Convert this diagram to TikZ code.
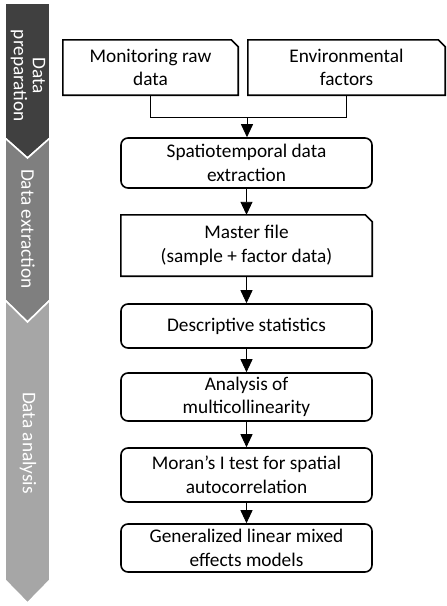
\documentclass[tikz,border=0pt]{standalone}
\usepackage{fontspec}
\setmainfont{Carlito}
\usetikzlibrary{arrows.meta}
\definecolor{bardark}{HTML}{404040}
\definecolor{barmid}{HTML}{7F7F7F}
\definecolor{barlight}{HTML}{A6A6A6}
\tikzset{
  boxtext/.style={font=\fontsize{19.3}{23.5}\selectfont, align=center, inner sep=0pt},
  plainbox/.style={boxtext, draw, line width=1.6pt, rounded corners=7pt},
  snipbox/.style={boxtext},
  snipline/.style={line width=1.6pt, line join=miter},
  conn/.style={line width=0.9pt},
  arr/.style={conn, -{Triangle[width=12pt,length=13pt]}},
  barshape/.style={draw=white, line width=1.6pt, line join=miter},
  bartext/.style={font=\fontsize{19.3}{19}\selectfont, text=white, align=center, rotate=-90, inner sep=0pt}
}
\begin{document}
\begin{tikzpicture}[x=1pt, y=-1pt]
\useasboundingbox (0,0) rectangle (447,606);

% side bar
\fill[bardark, barshape] (5,3) -- (50,3) -- (50,138) -- (27.5,158) -- (5,138) -- cycle;
\fill[barmid, barshape] (5,138) -- (27.5,158) -- (50,138) -- (50,300) -- (27.5,322) -- (5,300) -- cycle;
\fill[barlight, barshape] (5,300) -- (27.5,322) -- (50,300) -- (50,580) -- (27.5,603) -- (5,580) -- cycle;
\node[bartext] (tprep) at (28,76) {Data\\preparation};
\node[bartext] (textr) at (28,229) {Data extraction};
\node[bartext] (tanal) at (28,443) {Data analysis};

% boxes
\node[snipbox, minimum width=175pt, minimum height=55pt] (b1) at (150.5,67.5) {Monitoring raw\\data};
\node[snipbox, minimum width=197pt, minimum height=55pt] (b2) at (346.5,67.5) {Environmental\\factors};
\node[plainbox, minimum width=251pt, minimum height=50pt] (b3) at (246.5,163) {Spatiotemporal data\\extraction};
\node[snipbox, minimum width=251pt, minimum height=61pt] (b4) at (246.5,245.5) {Master file\\(sample + factor data)};
\node[plainbox, minimum width=251pt, minimum height=44pt] (b5) at (246.5,326) {Descriptive statistics};
\node[plainbox, minimum width=251pt, minimum height=48pt] (b6) at (246.5,397) {Analysis of\\multicollinearity};
\node[plainbox, minimum width=251pt, minimum height=54pt] (b7) at (246.5,475) {Moran’s I test for spatial\\autocorrelation};
\node[plainbox, minimum width=251pt, minimum height=48pt] (b8) at (246.5,548) {Generalized linear mixed\\effects models};

% snipped outlines
\foreach \b in {b1,b2,b4}{
  \draw[snipline] (\b.south west) -- (\b.north west) -- ([xshift=-7pt]\b.north east) -- ([yshift=-7pt]\b.north east) -- (\b.south east) -- cycle;
}

% connectors
\coordinate (j) at (247,117);
\draw[conn] (b1.south) |- (j);
\draw[conn] (b2.south) |- (j);
\draw[arr] (j) -- (j |- b3.north);
\draw[arr] (b3.south) -- (b4.north);
\draw[arr] (b4.south) -- (b5.north);
\draw[arr] (b5.south) -- (b6.north);
\draw[arr] (b6.south) -- (b7.north);
\draw[arr] (b7.south) -- (b8.north);
\end{tikzpicture}
\end{document}
